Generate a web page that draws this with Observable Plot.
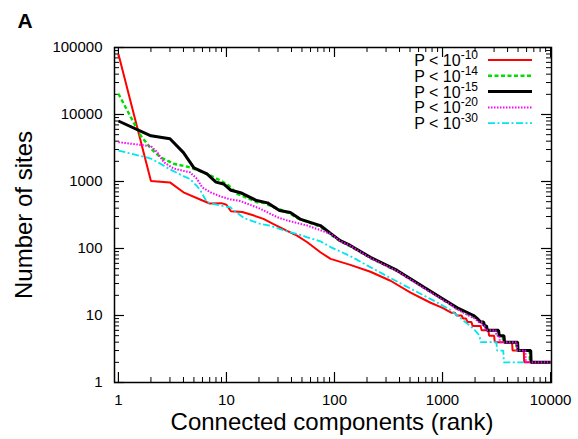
<!DOCTYPE html>
<html><head><meta charset="utf-8">
<script src="https://cdn.jsdelivr.net/npm/d3@7"></script>
<script src="https://cdn.jsdelivr.net/npm/@observablehq/plot@0.6"></script>
<style>body{margin:0;background:#fff}</style>
</head><body><div id="chart"></div>
<script>
// Series: rank of connected component vs number of sites
const rankP10 = [1,2,3,4,6,7,9,10,11,14,18,22,27,36,45,56,74,92,140,215,330,506,775,1000,1200,1300,1350,1500,1550,1650,1700,1850,1900,2250,2300,2650,2700,3000,3050,4400,4450,5650,5700,10000];
const sizeP10 = [80000,1020,970,690,520,470,475,450,360,350,310,277,233,185,156,124,88,70,57,45,33,22,15.5,13,11,11,10,10,9,9,8,8,7,7,6,6,5,5,4,4,3,3,2,2];

const rankP14 = [1,1.6,2,2.45,3.25,4.6,6.6,8.8,10.5,12.6,19.3,22,31.6,39,45,74,92,113,140,215,380,675,1190,1370,1900,2100,2200,2350,2400,2500,2550,3200,3250,3600,3650,4800,4850,6400,6450,10000];
const sizeP14 = [20400,4880,3100,2300,1840,1630,1300,1035,870,655,490,480,380,330,285,212,162,128,108,72,46,26,14.5,12.5,9.6,9,8,8,7,7,6,6,5,5,4,4,3,3,2,2];

const rankP15 = [1,2,3,4,5,6.6,8,9.4,11,13.5,19,24,31,39,48,74,92,113,140,215,380,675,1190,1370,1940,2100,2250,2400,2450,2550,2600,3300,3350,3700,3750,4950,5000,6550,6600,10000];
const sizeP15 = [8000,4800,4350,2700,1600,1300,980,920,740,680,520,480,370,345,275,220,168,131,111,74,47,26.4,15,13,10,9,8,8,7,7,6,6,5,5,4,4,3,3,2,2];

const rankP20 = [1,2,2.28,2.63,3.25,4.6,5.35,5.95,7.1,8.8,10.9,13.5,20.6,29.5,36.5,56,92,113,140,215,380,675,1190,1350,1850,2000,2150,2300,2350,2450,2500,3100,3150,3350,3400,4850,4900,5850,5900,10000];
const sizeP20 = [3860,3370,2750,1940,1560,1370,1090,820,690,600,540,510,391,293,262,220,166,128,110,72,46,25.5,14.5,12.5,9.5,9,8,8,7,7,6,6,5,5,4,4,3,3,2,2];

const rankP30 = [1,2,2.45,3,4,4.6,5.35,5.74,6.6,8.8,10.9,14.5,20.6,25.5,36.5,48,56,74,92,140,200,410,828,1190,1560,1800,2000,2200,2250,3150,3200,3650,3700,5650];
const sizeP30 = [2900,2200,1840,1520,1200,1090,850,734,490,438,410,285,233,218,180,160,147,128,105,77,56,30,16.7,12,8.4,7,6,5,4,4,3,3,2,2];

const legendExponents = ["-10","-14","-15","-20","-30"];
const xTickValues = [1,10,100,1000,10000];
const yTickValues = [1,10,100,1000,10000,100000];

const series = [
  {rank: rankP10, size: sizeP10, style: {stroke:"#ff0000", strokeWidth:2}},
  {rank: rankP14, size: sizeP14, style: {stroke:"#00dd00", strokeWidth:2.5, strokeDasharray:"4,2.5"}},
  {rank: rankP15, size: sizeP15, style: {stroke:"#000000", strokeWidth:3}},
  {rank: rankP20, size: sizeP20, style: {stroke:"#ff00ff", strokeWidth:2, strokeDasharray:"1.5,1.5"}},
  {rank: rankP30, size: sizeP30, style: {stroke:"#00e5ee", strokeWidth:1.8, strokeDasharray:"7,2.5,2,2.5"}}
];

const W = 578, H = 439, mL = 114, mR = 27, mT = 47, mB = 57;
const plotW = W - mL - mR, plotH = H - mT - mB;
const xDomain = [0.92, 10200], yDomain = [1, 100000];

const xMinor = d3.scaleLog().domain([1, 10000]).ticks().filter(v => !xTickValues.includes(v));
const yMinor = d3.scaleLog().domain(yDomain).ticks().filter(v => !yTickValues.includes(v));

const majorLen = 10, minorLen = 5;
const marks = [];
// inward ticks on all four sides
marks.push(Plot.tickX(xTickValues, {x: d => d, insetTop: plotH - majorLen, strokeWidth: 1.2}));
marks.push(Plot.tickX(xTickValues, {x: d => d, insetBottom: plotH - majorLen, strokeWidth: 1.2}));
marks.push(Plot.tickX(xMinor, {x: d => d, insetTop: plotH - minorLen, strokeWidth: 1}));
marks.push(Plot.tickX(xMinor, {x: d => d, insetBottom: plotH - minorLen, strokeWidth: 1}));
marks.push(Plot.tickY(yTickValues, {y: d => d, insetRight: plotW - majorLen, strokeWidth: 1.2}));
marks.push(Plot.tickY(yTickValues, {y: d => d, insetLeft: plotW - majorLen, strokeWidth: 1.2}));
marks.push(Plot.tickY(yMinor, {y: d => d, insetRight: plotW - minorLen, strokeWidth: 1}));
marks.push(Plot.tickY(yMinor, {y: d => d, insetLeft: plotW - minorLen, strokeWidth: 1}));
for (const s of series) {
  marks.push(Plot.line(s.rank.map((r, i) => [r, s.size[i]]), {...s.style, strokeLinejoin: "miter", strokeLinecap: "butt"}));
}
marks.push(Plot.frame({strokeWidth: 1.5}));
marks.push(Plot.axisX({ticks: xTickValues, tickFormat: d3.format("d"), tickSize: 0, tickPadding: 12, fontSize: 15, label: null}));
marks.push(Plot.axisY({ticks: yTickValues, tickFormat: d3.format("d"), tickSize: 0, tickPadding: 12, fontSize: 15, label: null}));

const svg = Plot.plot({
  width: W, height: H,
  marginLeft: mL, marginRight: mR, marginTop: mT, marginBottom: mB,
  style: {fontFamily: "'Liberation Sans', Arial, Helvetica, sans-serif", color: "#000", background: "#fff"},
  x: {type: "log", domain: xDomain, label: null},
  y: {type: "log", domain: yDomain, label: null},
  marks
});
document.getElementById("chart").appendChild(svg);

const g = d3.select(svg).append("g").attr("font-family", "'Liberation Sans', Arial, Helvetica, sans-serif").attr("fill", "#000");
g.append("text").attr("x", 25).attr("y", 28).attr("font-size", 21).attr("font-weight", "bold").text("A");
g.append("text").attr("x", 332).attr("y", 430).attr("text-anchor", "middle").attr("font-size", 24).text("Connected components (rank)");
g.append("text").attr("transform", "translate(32,215) rotate(-90)").attr("text-anchor", "middle").attr("font-size", 24).text("Number of sites");

// legend
const rowY0 = 60, rowStep = 15.8;
series.forEach((s, i) => {
  const y = rowY0 + i * rowStep;
  const t = g.append("text").attr("x", 478).attr("y", y + 6).attr("text-anchor", "end").attr("font-size", 16);
  t.append("tspan").text("P < 10");
  t.append("tspan").attr("dy", -7).attr("font-size", 12).text(legendExponents[i]);
  const ln = g.append("line").attr("x1", 488).attr("x2", 532).attr("y1", y).attr("y2", y)
    .attr("stroke", s.style.stroke).attr("stroke-width", s.style.strokeWidth);
  if (s.style.strokeDasharray) ln.attr("stroke-dasharray", s.style.strokeDasharray);
});
</script></body></html>
